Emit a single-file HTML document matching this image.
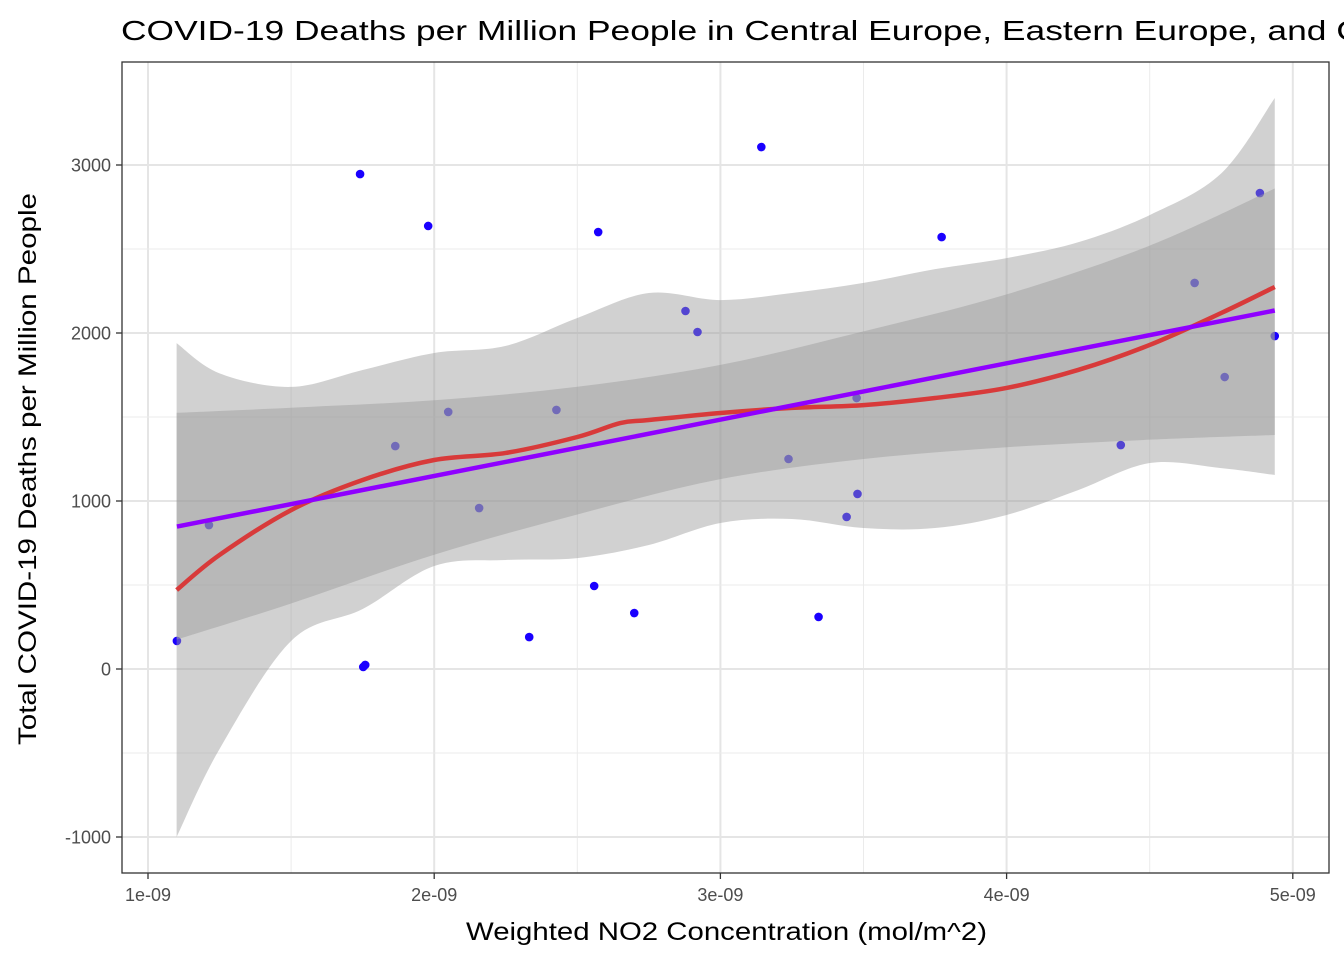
<!DOCTYPE html>
<html><head><meta charset="utf-8"><style>
body{margin:0;background:#fff;font-family:"Liberation Sans",Arial,sans-serif}
svg text{font-family:"Liberation Sans",Arial,sans-serif}
</style></head><body>
<svg id="c" width="1344" height="960" xmlns="http://www.w3.org/2000/svg">
<text x="121" y="40" font-size="28" fill="#000" textLength="1406" lengthAdjust="spacingAndGlyphs">COVID-19 Deaths per Million People in Central Europe, Eastern Europe, and Central Asia</text>
<rect x="122" y="62" width="1207" height="811" fill="#fff"/>
<g id="grid"></g><g id="bands"></g><g id="marks"></g>
<rect x="122" y="62" width="1207" height="811" fill="none" stroke="#333" stroke-width="1.3"/>
<g id="axes"></g>
<text x="466" y="940" font-size="25" fill="#000" textLength="521" lengthAdjust="spacingAndGlyphs">Weighted NO2 Concentration (mol/m^2)</text>
<text transform="translate(36,745) rotate(-90)" font-size="25" fill="#000" textLength="552" lengthAdjust="spacingAndGlyphs">Total COVID-19 Deaths per Million People</text>
</svg>
<script>
const xTicks=[1,2,3,4,5];
const xTickLabels=["1e-09","2e-09","3e-09","4e-09","5e-09"];
const yTicks=[-1000,0,1000,2000,3000];
const yTickLabels=["-1000","0","1000","2000","3000"];
const ptX=[1.101,1.213,1.741,1.752,1.759,1.864,1.979,2.049,2.157,2.332,2.427,2.559,2.573,2.699,2.878,2.920,3.143,3.238,3.343,3.441,3.476,3.479,3.773,4.399,4.657,4.762,4.885,4.937];
const ptY=[167,857,2946,12,24,1327,2637,1530,958,190,1542,494,2601,333,2131,2006,3107,1250,310,905,1613,1042,2571,1333,2298,1738,2833,1982];
const loX=[1.1,1.25,1.5,1.75,2.0,2.25,2.5,2.65,2.75,3.0,3.25,3.5,3.75,4.0,4.25,4.5,4.75,4.937];
const loY=[470,679,946,1125,1244,1286,1381,1464,1482,1524,1554,1571,1613,1673,1780,1929,2119,2274];
const loBandX=[1.1,1.25,1.5,1.75,2.0,2.25,2.5,2.75,3.0,3.25,3.5,3.75,4.0,4.25,4.5,4.75,4.937];
const loUpper=[1940,1760,1679,1780,1881,1923,2089,2238,2196,2238,2298,2380,2446,2540,2702,2950,3399];
const loLower=[-1000,-476,167,357,613,649,660,738,869,893,839,839,917,1065,1226,1196,1155];
const lmBandX=[1.1,1.5,2.0,2.5,3.0,3.5,4.0,4.5,4.937];
const lmUpper=[1525,1555,1600,1680,1810,2010,2230,2520,2860];
const lmLower=[175,390,680,920,1130,1250,1320,1365,1393];
const X=v=>148+(v-1)*286.2, Y=v=>669-v*0.168;
const NS="http://www.w3.org/2000/svg";
function mk(p,t,a){const e=document.createElementNS(NS,t);for(const k in a)e.setAttribute(k,a[k]);document.getElementById(p).appendChild(e);return e;}
for(let i=0;i<xTicks.length;i++){
  if(i<xTicks.length-1){const m=mk('grid','line',{x1:X(xTicks[i]+0.5),x2:X(xTicks[i]+0.5),y1:62,y2:873,stroke:'#ebebeb','stroke-width':1});
  
  }
  const g=mk('grid','line',{x1:X(xTicks[i]),x2:X(xTicks[i]),y1:62,y2:873,stroke:'#e5e5e5','stroke-width':2});
  
  
  const t=mk('axes','line',{x1:X(xTicks[i]),x2:X(xTicks[i]),y1:873,y2:879,stroke:'#333','stroke-width':1.3});
  
  
  const l=mk('axes','text',{x:X(xTicks[i]),y:901,'font-size':18,fill:'#4d4d4d','text-anchor':'middle'});l.textContent=xTickLabels[i];
  
  
}
for(let i=0;i<yTicks.length;i++){
  if(i<yTicks.length-1){const m=mk('grid','line',{x1:122,x2:1329,y1:Y(yTicks[i]+500),y2:Y(yTicks[i]+500),stroke:'#ebebeb','stroke-width':1});
  
  }
  const g=mk('grid','line',{x1:122,x2:1329,y1:Y(yTicks[i]),y2:Y(yTicks[i]),stroke:'#e5e5e5','stroke-width':2});
  
  
  const t=mk('axes','line',{x1:116,x2:122,y1:Y(yTicks[i]),y2:Y(yTicks[i]),stroke:'#333','stroke-width':1.3});
  
  
  const l=mk('axes','text',{x:111,y:Y(yTicks[i])+6.5,'font-size':18,fill:'#4d4d4d','text-anchor':'end'});l.textContent=yTickLabels[i];
  
  
}
for(let i=0;i<ptX.length;i++){
  const c=mk('grid','circle',{cx:X(ptX[i]),cy:Y(ptY[i]),r:4.3,fill:'#1a00ff'});
  
  
}
function smoothPath(xs,ys){const p=xs.map((x,i)=>[X(x),Y(ys[i])]);let d='M'+p[0][0]+','+p[0][1];
  for(let i=0;i<p.length-1;i++){const p0=p[Math.max(0,i-1)],p1=p[i],p2=p[i+1],p3=p[Math.min(p.length-1,i+2)];
  d+=` C${p1[0]+(p2[0]-p0[0])/6},${p1[1]+(p2[1]-p0[1])/6} ${p2[0]-(p3[0]-p1[0])/6},${p2[1]-(p3[1]-p1[1])/6} ${p2[0]},${p2[1]}`;}return d;}
function smoothBand(xs,up,lo){const a=smoothPath(xs,up);const rx=xs.slice().reverse(),rl=lo.slice().reverse();
  const b=smoothPath(rx,rl).replace(/^M/,' L');return a+b+'Z';}
const lb=mk('bands','path',{d:smoothBand(loBandX,loUpper,loLower),fill:'#999',opacity:0.45});


const mb=mk('bands','path',{d:smoothBand(lmBandX,lmUpper,lmLower),fill:'#999',opacity:0.45});


const ll=mk('marks','path',{d:smoothPath(loX,loY),fill:'none',stroke:'#d83a3a','stroke-width':4.5});


const n=ptX.length,mx=ptX.reduce((a,b)=>a+b)/n,my=ptY.reduce((a,b)=>a+b)/n;
let sxy=0,sxx=0;for(let i=0;i<n;i++){sxy+=(ptX[i]-mx)*(ptY[i]-my);sxx+=(ptX[i]-mx)**2;}
const b1=sxy/sxx,b0=my-b1*mx,x0=Math.min(...ptX),x1=Math.max(...ptX);
const lm=mk('marks','line',{x1:X(x0),y1:Y(b0+b1*x0),x2:X(x1),y2:Y(b0+b1*x1),stroke:'#8f00ff','stroke-width':4.5});


</script>
</body></html>
